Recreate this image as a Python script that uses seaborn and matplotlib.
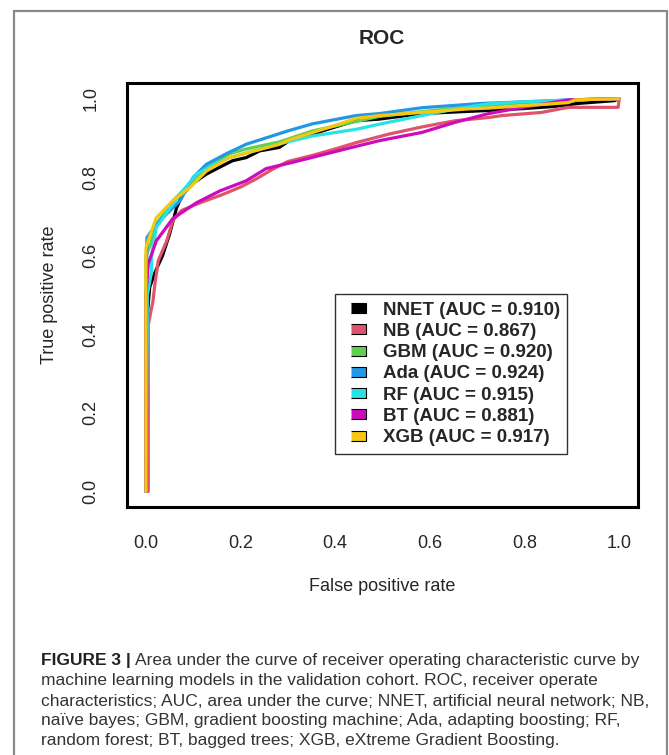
import matplotlib
matplotlib.use("Agg")
import matplotlib.pyplot as plt
from matplotlib.lines import Line2D
from matplotlib.patches import Rectangle
import seaborn as sns
import pandas as pd

# ROC curve points (fpr, tpr)
nnet_fpr = [0, 0.003, 0.008, 0.02, 0.035, 0.05, 0.065, 0.078, 0.1, 0.128, 0.155, 0.183, 0.212, 0.24, 0.282, 0.303, 0.352, 0.4, 0.444, 0.493, 0.583, 0.65, 0.724, 0.8, 0.86, 0.914, 0.99, 1.0]
nnet_tpr = [0, 0.45, 0.52, 0.56, 0.6, 0.655, 0.723, 0.757, 0.785, 0.808, 0.825, 0.842, 0.85, 0.867, 0.876, 0.893, 0.91, 0.928, 0.944, 0.948, 0.962, 0.966, 0.97, 0.975, 0.98, 0.988, 0.995, 1.0]

nb_fpr = [0, 0.005, 0.005, 0.015, 0.019, 0.026, 0.044, 0.057, 0.075, 0.1, 0.13, 0.16, 0.2, 0.235, 0.267, 0.3, 0.35, 0.4, 0.444, 0.514, 0.583, 0.654, 0.724, 0.752, 0.836, 0.893, 0.998, 1.0]
nb_tpr = [0, 0.0, 0.425, 0.485, 0.528, 0.587, 0.638, 0.69, 0.715, 0.728, 0.742, 0.755, 0.775, 0.797, 0.82, 0.84, 0.855, 0.872, 0.888, 0.91, 0.928, 0.944, 0.952, 0.957, 0.965, 0.978, 0.978, 0.995]

gbm_fpr = [0, 0.0, 0.01, 0.022, 0.057, 0.09, 0.128, 0.177, 0.212, 0.282, 0.352, 0.43, 0.493, 0.583, 0.65, 0.724, 0.8, 0.9, 1.0]
gbm_tpr = [0, 0.6, 0.63, 0.68, 0.74, 0.78, 0.825, 0.86, 0.872, 0.89, 0.918, 0.938, 0.955, 0.967, 0.975, 0.983, 0.99, 0.997, 1.0]

ada_fpr = [0, 0.002, 0.01, 0.03, 0.072, 0.1, 0.128, 0.17, 0.212, 0.3, 0.352, 0.444, 0.493, 0.583, 0.71, 0.8, 0.9, 1.0]
ada_tpr = [0, 0.646, 0.66, 0.69, 0.74, 0.8, 0.833, 0.86, 0.884, 0.918, 0.936, 0.957, 0.962, 0.977, 0.988, 0.992, 0.997, 1.0]

rf_fpr = [0, 0.003, 0.012, 0.012, 0.022, 0.05, 0.072, 0.107, 0.14, 0.177, 0.282, 0.352, 0.444, 0.493, 0.583, 0.654, 0.724, 0.8, 0.9, 1.0]
rf_tpr = [0, 0.5, 0.561, 0.6, 0.672, 0.72, 0.757, 0.808, 0.83, 0.85, 0.885, 0.905, 0.922, 0.935, 0.957, 0.974, 0.987, 0.992, 0.997, 1.0]

bt_fpr = [0, 0, 0.005, 0.022, 0.057, 0.107, 0.156, 0.212, 0.254, 0.317, 0.422, 0.493, 0.583, 0.654, 0.724, 0.787, 0.893, 1.0]
bt_tpr = [0, 0.5, 0.58, 0.638, 0.695, 0.735, 0.765, 0.791, 0.822, 0.84, 0.872, 0.893, 0.914, 0.94, 0.962, 0.976, 0.997, 1.0]

xgb_fpr = [0, 0, 0.005, 0.022, 0.057, 0.093, 0.128, 0.177, 0.282, 0.303, 0.387, 0.444, 0.493, 0.583, 0.68, 0.724, 0.893, 0.907, 1.0]
xgb_tpr = [0, 0.62, 0.64, 0.697, 0.74, 0.774, 0.816, 0.85, 0.884, 0.895, 0.927, 0.95, 0.957, 0.965, 0.974, 0.976, 0.99, 0.997, 1.0]

models = ['NNET', 'NB', 'GBM', 'Ada', 'RF', 'BT', 'XGB']
auc = ['0.910', '0.867', '0.920', '0.924', '0.915', '0.881', '0.917']
model_colors = {
    'NNET': '#000000',
    'NB': '#DF536B',
    'GBM': '#61D04F',
    'Ada': '#2297E6',
    'RF': '#28E2E5',
    'BT': '#CD0BBC',
    'XGB': '#F5C710',
}

curves = {
    'NNET': (nnet_fpr, nnet_tpr),
    'NB': (nb_fpr, nb_tpr),
    'GBM': (gbm_fpr, gbm_tpr),
    'Ada': (ada_fpr, ada_tpr),
    'RF': (rf_fpr, rf_tpr),
    'BT': (bt_fpr, bt_tpr),
    'XGB': (xgb_fpr, xgb_tpr),
}

frames = []
for m in models:
    f, t = curves[m]
    frames.append(pd.DataFrame({'fpr': f, 'tpr': t, 'model': m}))
df = pd.concat(frames, ignore_index=True)

sns.set_style('white')
plt.rcParams['font.family'] = ['Liberation Sans', 'DejaVu Sans']

W, H = 669, 755
fig = plt.figure(figsize=(W / 100, H / 100), dpi=100)

# grey frame around the figure panel
fig.patches.append(Rectangle((14 / W, -0.05), (667 - 14) / W, 1.05 - 11 / H,
                             transform=fig.transFigure, fill=False,
                             edgecolor='#8a8a8a', linewidth=1.6))

ax = fig.add_axes([127 / W, 1 - 507 / H, (638 - 127) / W, (507 - 83) / H])
for m in models:
    sns.lineplot(data=df[df['model'] == m], x='fpr', y='tpr', color=model_colors[m],
                 sort=False, estimator=None, linewidth=2.3, ax=ax, legend=False)

ax.set_xlim(-0.04, 1.04)
ax.set_ylim(-0.04, 1.04)
ticks = [0.0, 0.2, 0.4, 0.6, 0.8, 1.0]
ax.set_xticks(ticks)
ax.set_yticks(ticks)
ax.set_xticklabels([f'{t:.1f}' for t in ticks])
ax.set_yticklabels([f'{t:.1f}' for t in ticks], rotation=90, va='center')
ax.tick_params(axis='both', direction='out', length=7, width=1, labelsize=13, color='black')
ax.tick_params(axis='x', pad=13)
ax.tick_params(axis='y', pad=13)
for s in ax.spines.values():
    s.set_linewidth(2.2)
    s.set_color('black')

ax.set_xlabel('False positive rate', fontsize=13)
ax.set_ylabel('True positive rate', fontsize=13)
ax.xaxis.set_label_coords(0.5, -0.167)
ax.yaxis.set_label_coords(-0.135, 0.5)
fig.text(382 / W, 1 - 38 / H, 'ROC', ha='center', va='center', fontsize=15, fontweight='bold')

handles = [Line2D([], [], linestyle='none', marker=[(-1, -0.62), (1, -0.62), (1, 0.62), (-1, 0.62)],
                  markersize=10.8, markerfacecolor=model_colors[m], markeredgecolor='black',
                  markeredgewidth=0.8) for m in models]
labels = [f'{m} (AUC = {a})' for m, a in zip(models, auc)]
leg = ax.legend(handles, labels, loc='upper left',
                bbox_to_anchor=((335 - 127) / 511, (507 - 294) / 424),
                borderaxespad=0, frameon=True, fancybox=False, edgecolor='black',
                prop={'size': 13.5, 'weight': 'bold'}, handlelength=1.7, handletextpad=0.45,
                labelspacing=0.22, borderpad=0.4)
leg.get_frame().set_linewidth(1.0)

# caption
cap_font = ['Liberation Sans', 'DejaVu Sans']
cap_size = 12.5
cap_lines = [
    'Area under the curve of receiver operating characteristic curve by',
    'machine learning models in the validation cohort. ROC, receiver operate',
    'characteristics; AUC, area under the curve; NNET, artificial neural network; NB,',
    'naïve bayes; GBM, gradient boosting machine; Ada, adapting boosting; RF,',
    'random forest; BT, bagged trees; XGB, eXtreme Gradient Boosting.',
]
cap_y = [661, 681, 701, 721, 741]
bold = fig.text(41 / W, 1 - cap_y[0] / H, 'FIGURE 3 |', family=cap_font, fontsize=cap_size,
                fontweight='bold', color='#222222', va='center')
fig.canvas.draw()
bb = bold.get_window_extent()
fig.text((bb.x1 + 4) / W, 1 - cap_y[0] / H, cap_lines[0], family=cap_font, fontsize=cap_size,
         color='#333333', va='center')
for line, y in zip(cap_lines[1:], cap_y[1:]):
    fig.text(41 / W, 1 - y / H, line, family=cap_font, fontsize=cap_size, color='#333333', va='center')

fig.savefig('out.png', dpi=100)
